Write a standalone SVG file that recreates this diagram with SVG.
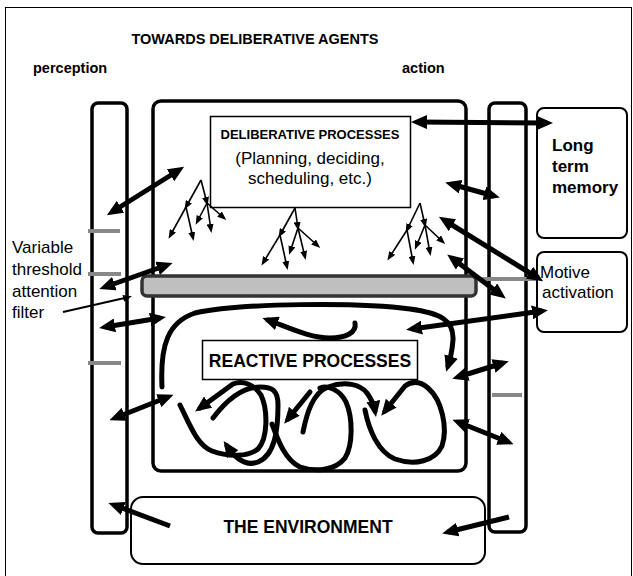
<svg xmlns="http://www.w3.org/2000/svg" width="633" height="576" viewBox="0 0 633 576">
<style>
.t{font-family:"Liberation Sans",Arial,sans-serif;fill:#000}
.b{font-weight:bold}
.col{fill:none;stroke:#000;stroke-width:3.5}
.box{fill:#fff;stroke:#000;stroke-width:2}
.thick{fill:none;stroke:#000;stroke-width:5}
.thin{fill:none;stroke:#000;stroke-width:1.6}
.tick{stroke:#888;stroke-width:4}
</style>
<defs>
<marker id="big" viewBox="0 0 16 14" refX="10" refY="7" markerWidth="16" markerHeight="14" markerUnits="userSpaceOnUse" orient="auto-start-reverse"><path d="M0,0 L16,7 L0,14 z" fill="#000"/></marker>
<marker id="sm" viewBox="0 0 9 7" refX="6" refY="3.5" markerWidth="9" markerHeight="7" markerUnits="userSpaceOnUse" orient="auto"><path d="M0,0 L9,3.5 L0,7 z" fill="#000"/></marker>
</defs>
<rect x="5.5" y="7.5" width="626" height="575" fill="#fff" stroke="#000" stroke-width="1"/>
<g id="title"><text class="t b" x="255" y="44" font-size="14.5" text-anchor="middle">TOWARDS DELIBERATIVE AGENTS</text></g>
<g id="perception"><text class="t b" x="33" y="73" font-size="14.5">perception</text>
<rect class="col" x="92" y="103" width="35" height="430" rx="6"/></g>
<g id="action"><text class="t b" x="402" y="73" font-size="14.5">action</text>
<rect class="col" x="489" y="103" width="37" height="429" rx="6"/></g>
<g id="environment"><rect class="box" x="131" y="497" width="354" height="67" rx="12" fill="none"/>
<text class="t b" x="308" y="533" font-size="17.5" text-anchor="middle">THE ENVIRONMENT</text></g>
<g id="agent"><rect x="153" y="101" width="313" height="370" rx="8" fill="none" stroke="#000" stroke-width="3.5"/></g>
<g id="filter"><rect x="142" y="276" width="334" height="20" rx="5" fill="#bfbfbf" stroke="#333" stroke-width="3.5"/></g>
<g id="ticks">
<line class="tick" x1="88" y1="231" x2="120" y2="231"/>
<line class="tick" x1="88" y1="274" x2="121" y2="274"/>
<line class="tick" x1="88" y1="363" x2="121" y2="363"/>
<line class="tick" x1="478" y1="279" x2="537" y2="279"/>
<line class="tick" x1="492" y1="395" x2="522" y2="395"/>
</g>
<g id="deliberative"><rect x="210.5" y="116.5" width="200" height="91" fill="#fff" stroke="#000" stroke-width="1.5"/>
<text class="t b" x="310" y="139" font-size="13" text-anchor="middle">DELIBERATIVE PROCESSES</text>
<text class="t" x="310" y="164" font-size="17" text-anchor="middle">(Planning, deciding,</text>
<text class="t" x="310" y="184" font-size="17" text-anchor="middle">scheduling, etc.)</text></g>
<g id="reactive"><rect x="202.5" y="340.5" width="215" height="39" fill="#fff" stroke="#000" stroke-width="1.5"/>
<text class="t b" x="310" y="367" font-size="17.5" text-anchor="middle">REACTIVE PROCESSES</text></g>
<g id="memory"><rect class="box" x="537" y="108" width="90" height="130" rx="7" stroke-width="2.5"/>
<text class="t b" x="552" y="151" font-size="17">Long</text>
<text class="t b" x="552" y="172" font-size="17">term</text>
<text class="t b" x="552" y="193" font-size="17">memory</text></g>
<g id="motive"><rect class="box" x="537" y="252" width="90" height="80" rx="7" stroke-width="2.5"/>
<text class="t" x="540" y="278" font-size="17">Motive</text>
<text class="t" x="542" y="298" font-size="17">activation</text></g>
<g id="filter-label"><text class="t" x="12" y="253" font-size="17">Variable</text>
<text class="t" x="12" y="275" font-size="17">threshold</text>
<text class="t" x="12" y="297" font-size="17">attention</text>
<text class="t" x="12" y="318" font-size="17">filter</text></g>
<g id="connectors">
<line x1="63" y1="312" x2="129" y2="297" stroke="#000" stroke-width="2" marker-end="url(#sm)"/>
<g marker-start="url(#big)" marker-end="url(#big)">
<line class="thick" x1="112" y1="212" x2="179" y2="170"/>
<line class="thick" x1="105" y1="287" x2="167" y2="265"/>
<line class="thick" x1="105" y1="327" x2="160" y2="318"/>
<line class="thick" x1="115" y1="418" x2="168" y2="397"/>
<line class="thick" x1="417" y1="122" x2="547" y2="123"/>
<line class="thick" x1="451" y1="184" x2="494" y2="196"/>
<line class="thick" x1="444" y1="220" x2="538" y2="278"/>
<line class="thick" x1="452" y1="258" x2="501" y2="295"/>
<line class="thick" x1="412" y1="329" x2="542" y2="311"/>
<line class="thick" x1="458" y1="377" x2="503" y2="363"/>
<line class="thick" x1="458" y1="422" x2="508" y2="442"/>
</g>
<line class="thick" x1="170" y1="526" x2="114" y2="505" marker-end="url(#big)"/>
<line class="thick" x1="509" y1="517" x2="448" y2="532" marker-end="url(#big)"/>
<g stroke-linecap="round">
<path class="thick" d="M162,387 C160,345 168,322 195,313 C240,303 360,302 410,309 C440,313 454,320 453,340 C452,352 450,360 448,366" marker-end="url(#big)"/>
<path class="thick" d="M355,323 C357,333 345,338 330,338 C310,338 290,328 268,320" marker-end="url(#big)"/>
<path class="thick" d="M180,405 C190,425 197,445 212,451 C228,457 248,457 258,449 C268,438 268,410 261,395 C255,385 243,380 233,384 L200,408" marker-end="url(#big)"/>
<path class="thick" d="M213,418 C225,402 240,387 260,387 C272,387 278,390 278,405 C278,430 275,455 258,462 C248,466 238,462 227,446" marker-end="url(#big)"/>
<path class="thick" d="M272,424 C278,440 285,460 300,467 C315,472 335,471 345,458 C353,445 353,418 346,402 C340,390 328,385 320,388"/>
<path class="thick" d="M310,392 L288,419" marker-end="url(#big)"/>
<path class="thick" d="M303,432 C307,412 313,393 328,387 C345,381 360,384 367,393 C372,400 374,405 375,411" marker-end="url(#big)"/>
<path class="thick" d="M365,410 C369,430 378,452 395,459 C415,466 435,461 442,446 C448,428 442,400 428,388 C420,381 412,381 405,386 L385,411" marker-end="url(#big)"/>
</g>
<g class="thin" marker-end="url(#sm)">
<line x1="201" y1="180" x2="186" y2="207"/><line x1="201" y1="180" x2="207" y2="203"/>
<line x1="186" y1="207" x2="170" y2="236"/><line x1="186" y1="207" x2="193" y2="238"/>
<line x1="207" y1="203" x2="197" y2="222"/><line x1="207" y1="203" x2="211" y2="230"/><line x1="207" y1="203" x2="224" y2="218"/>
<line x1="295" y1="208" x2="280" y2="235"/><line x1="295" y1="208" x2="298" y2="228"/>
<line x1="280" y1="235" x2="263" y2="263"/><line x1="280" y1="235" x2="287" y2="267"/>
<line x1="298" y1="228" x2="290" y2="252"/><line x1="298" y1="228" x2="305" y2="257"/><line x1="298" y1="228" x2="318" y2="246"/>
<line x1="420" y1="203" x2="407" y2="230"/><line x1="420" y1="203" x2="425" y2="225"/>
<line x1="407" y1="230" x2="389" y2="258"/><line x1="407" y1="230" x2="413" y2="262"/>
<line x1="425" y1="225" x2="416" y2="247"/><line x1="425" y1="225" x2="430" y2="253"/><line x1="425" y1="225" x2="443" y2="242"/>
</g>
</g>
</svg>
